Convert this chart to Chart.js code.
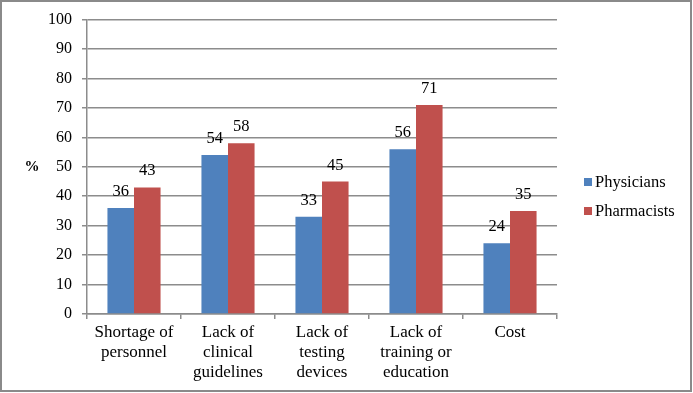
<!DOCTYPE html>
<html>
<head>
<meta charset="utf-8">
<script src="https://cdn.jsdelivr.net/npm/chart.js@4/dist/chart.umd.min.js"></script>
<style>
  html, body { margin: 0; padding: 0; background: #fff; }
  #wrap { width: 693px; height: 393px; position: relative; }
</style>
</head>
<body>
<div id="wrap"><canvas id="c" width="693" height="393"></canvas></div>
<script>
const categories = [
  ['Shortage of', 'personnel'],
  ['Lack of', 'clinical', 'guidelines'],
  ['Lack of', 'testing', 'devices'],
  ['Lack of', 'training or', 'education'],
  ['Cost']
];
const physicians = [36, 54, 33, 56, 24];
const pharmacists = [43, 58, 45, 71, 35];
const seriesNames = ['Physicians', 'Pharmacists'];
const seriesColors = ['#4F81BD', '#C0504D'];
const yTicks = { min: 0, max: 100, step: 10 };
const axisTitle = '%';

const SERIF = "'Liberation Serif', 'Times New Roman', serif";
const GRID = '#8c8c8c';

const extras = {
  id: 'extras',
  afterDatasetsDraw(chart) {
    const ctx = chart.ctx;
    ctx.save();
    ctx.font = '16.5px ' + SERIF;
    ctx.fillStyle = '#000';
    ctx.textAlign = 'center';
    ctx.textBaseline = 'alphabetic';
    chart.data.datasets.forEach((ds, di) => {
      const meta = chart.getDatasetMeta(di);
      meta.data.forEach((bar, i) => {
        ctx.fillText(String(ds.data[i]), bar.x, bar.y - 12);
      });
    });
    ctx.restore();
  },
  afterDraw(chart) {
    const ctx = chart.ctx;
    ctx.save();
    ctx.font = 'bold 15px ' + SERIF;
    ctx.fillStyle = '#000';
    ctx.textAlign = 'center';
    ctx.textBaseline = 'middle';
    ctx.fillText(axisTitle, 32, 167);
    ctx.font = '16.5px ' + SERIF;
    ctx.textAlign = 'left';
    chart.data.datasets.forEach((ds, di) => {
      const cy = 182 + di * 29;
      ctx.fillStyle = ds.backgroundColor;
      ctx.fillRect(584, cy - 4, 8, 8);
      ctx.fillStyle = '#000';
      ctx.fillText(ds.label, 595, cy + 1);
    });
    ctx.strokeStyle = '#8a8a8a';
    ctx.lineWidth = 2;
    ctx.strokeRect(1, 1, 690, 390);
    ctx.restore();
  }
};

new Chart(document.getElementById('c'), {
  type: 'bar',
  data: {
    labels: categories,
    datasets: [
      { label: seriesNames[0], data: physicians, backgroundColor: seriesColors[0] },
      { label: seriesNames[1], data: pharmacists, backgroundColor: seriesColors[1] }
    ]
  },
  options: {
    responsive: false,
    animation: false,
    devicePixelRatio: 1,
    layout: { padding: { top: 19.5, right: 136, left: 0, bottom: 0 } },
    datasets: { bar: { categoryPercentage: 0.565, barPercentage: 1.0 } },
    plugins: {
      legend: { display: false },
      tooltip: { enabled: false }
    },
    scales: {
      x: {
        offset: true,
        grid: { display: true, drawOnChartArea: false, offset: true, color: GRID, tickLength: 5, lineWidth: 1.5 },
        border: { color: GRID, width: 1.5 },
        ticks: { color: '#000', font: { family: SERIF, size: 17, lineHeight: 1.16 }, padding: 4, maxRotation: 0, autoSkip: false },
        afterFit(scale) { scale.height = 79; }
      },
      y: {
        min: yTicks.min, max: yTicks.max,
        grid: { color: GRID, tickLength: 5, lineWidth: 1.5 },
        border: { color: GRID, width: 1.5 },
        ticks: { stepSize: yTicks.step, color: '#000', font: { family: SERIF, size: 16 }, padding: 10 },
        afterFit(scale) { scale.width = 87; }
      }
    }
  },
  plugins: [extras]
});
</script>
</body>
</html>
